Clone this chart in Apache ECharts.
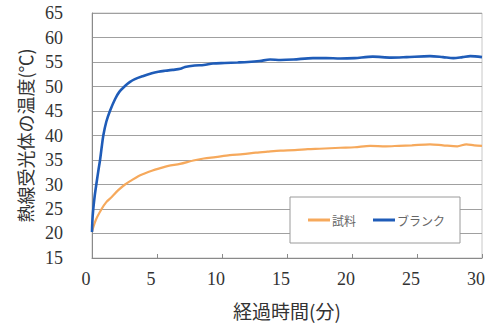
<!DOCTYPE html>
<html>
<head>
<meta charset="utf-8">
<script src="https://cdn.jsdelivr.net/npm/echarts@6.0.0/dist/echarts.min.js"></script>
<style>
  html, body { margin: 0; padding: 0; background: #fff; }
  #chart { width: 496px; height: 325px; }
</style>
</head>
<body>
<div id="chart"></div>
<script>
// Elapsed time (min) and measured temperature (°C)
const blankTime = [0, 0.05, 0.2, 0.36, 0.5, 0.62, 0.75, 0.87, 1.1, 1.38, 1.77, 2.1, 2.54, 2.9, 3.3, 3.9, 4.6, 5.1, 5.6, 6.2, 6.8, 7.15, 7.9, 8.6, 9.3, 10.2, 11.2, 12.0, 12.9, 13.7, 14.5, 15.5, 17.0, 18.0, 19.1, 20.2, 21.6, 23.0, 24.2, 26.0, 27.0, 27.8, 28.5, 29.1, 30];
const blankTemp = [20.3, 23.5, 27.5, 30.5, 33.0, 35.0, 37.7, 40.0, 42.8, 45.0, 47.4, 48.9, 50.1, 50.9, 51.5, 52.1, 52.7, 53.0, 53.2, 53.4, 53.6, 54.0, 54.3, 54.4, 54.7, 54.8, 54.9, 55.0, 55.2, 55.5, 55.4, 55.5, 55.8, 55.8, 55.7, 55.8, 56.1, 55.9, 56.0, 56.2, 56.0, 55.8, 56.0, 56.2, 56.0];

const sampleTime = [0, 0.3, 0.74, 1.1, 1.5, 2.0, 2.54, 3.0, 3.56, 4.0, 4.6, 5.2, 5.87, 6.77, 7.8, 8.6, 9.5, 10.6, 11.6, 12.6, 13.5, 14.5, 15.6, 16.6, 17.5, 18.3, 19.1, 20.2, 21.4, 22.6, 23.6, 24.6, 26.0, 27.0, 28.1, 28.8, 29.4, 30];
const sampleTemp = [20.4, 22.8, 25.0, 26.4, 27.4, 28.8, 30.0, 30.8, 31.7, 32.2, 32.8, 33.3, 33.8, 34.2, 34.9, 35.3, 35.6, 36.0, 36.2, 36.5, 36.7, 36.9, 37.0, 37.2, 37.3, 37.4, 37.5, 37.6, 37.9, 37.8, 37.9, 38.0, 38.2, 38.0, 37.8, 38.2, 38.0, 37.9];

const seriesNames = ['試料', 'ブランク'];
const xTicks = { min: 0, max: 30, interval: 5 };
const yTicks = { min: 15, max: 65, interval: 5 };

const pairs = (xs, ys) => xs.map((x, i) => [x, ys[i]]);

const serif = "'Liberation Serif', 'Times New Roman', serif";
const cjk = "'Noto Sans CJK JP', sans-serif";

const chart = echarts.init(document.getElementById('chart'), null, { renderer: 'svg' });
chart.setOption({
  animation: false,
  backgroundColor: '#ffffff',
  textStyle: { fontFamily: serif },
  grid: {
    left: 92, right: 14, top: 13, bottom: 64,
    show: true, borderColor: '#c8c8c8', borderWidth: 1
  },
  legend: {
    left: 290, top: 197,
    data: seriesNames,
    icon: 'rect',
    itemWidth: 22, itemHeight: 3,
    itemGap: 17,
    padding: [17, 15, 17, 18],
    borderColor: '#9a9a9a', borderWidth: 1,
    backgroundColor: '#ffffff',
    textStyle: { fontFamily: cjk, fontSize: 12, color: '#666', padding: [0, 0, 0, -3] }
  },
  xAxis: {
    type: 'value',
    min: xTicks.min, max: xTicks.max, interval: xTicks.interval,
    name: '経過時間(分)',
    nameLocation: 'middle',
    nameGap: 43,
    nameTextStyle: { fontFamily: cjk, fontSize: 19, color: '#333' },
    axisLine: { lineStyle: { color: '#8a8a8a', width: 1 } },
    axisTick: { show: true, inside: true, length: 4, lineStyle: { color: '#8a8a8a' } },
    splitLine: { show: false },
    axisLabel: {
      fontFamily: serif, fontSize: 18, color: '#333', margin: 12,
      padding: [0, 12, 0, 0]
    }
  },
  yAxis: {
    type: 'value',
    min: yTicks.min, max: yTicks.max, interval: yTicks.interval,
    name: '熱線受光体の温度(℃)',
    nameLocation: 'middle',
    nameRotate: 90,
    nameGap: 58,
    nameTextStyle: { fontFamily: cjk, fontSize: 18, color: '#333' },
    axisLine: { show: true, lineStyle: { color: '#8a8a8a', width: 1 } },
    axisTick: { show: false },
    splitLine: { show: true, lineStyle: { color: '#a0a0a0', width: 1 } },
    axisLabel: { fontFamily: serif, fontSize: 18, color: '#333', margin: 29 }
  },
  series: [
    {
      name: seriesNames[0],
      type: 'line',
      data: pairs(sampleTime, sampleTemp),
      showSymbol: false,
      smooth: 0.3,
      color: '#f6a95c',
      lineStyle: { color: '#f6a95c', width: 2.2 }
    },
    {
      name: seriesNames[1],
      type: 'line',
      data: pairs(blankTime, blankTemp),
      showSymbol: false,
      smooth: 0.3,
      color: '#1f5cb8',
      lineStyle: { color: '#1f5cb8', width: 2.6 }
    }
  ]
});
</script>
</body>
</html>
